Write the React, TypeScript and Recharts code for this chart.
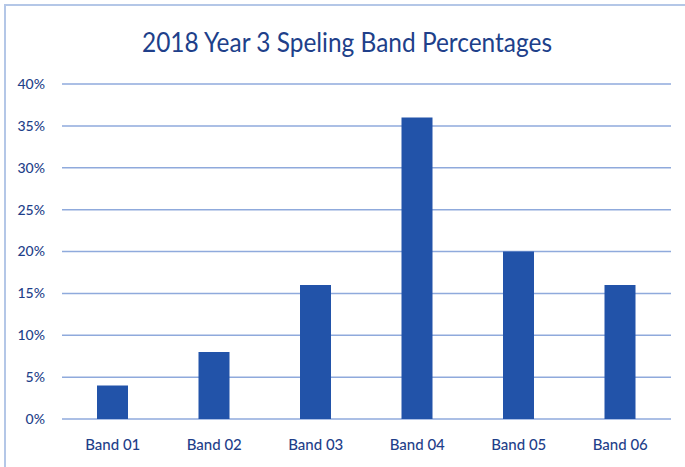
import { BarChart, Bar, XAxis, YAxis, CartesianGrid } from 'recharts';

const bands = ['Band 01', 'Band 02', 'Band 03', 'Band 04', 'Band 05', 'Band 06'];
const percentages = [4, 8, 16, 36, 20, 16];
const yTicks = [0, 5, 10, 15, 20, 25, 30, 35, 40];

const TEXT = '#1f3f8a';

export default function App() {
  const data = bands.map((name, i) => ({ name, value: percentages[i] }));

  return (
    <div style={{ position: 'absolute', left: 0, top: 0, width: 685, height: 467, overflow: 'hidden', background: '#fff' }}>
      {/* light chart-area border, runs off the right/bottom edge */}
      <div
        style={{
          position: 'absolute', left: 4, top: 4, width: 700, height: 500,
          border: '2px solid #b4c7e7', boxSizing: 'border-box',
        }}
      />
      <svg width={685} height={70} style={{ position: 'absolute', left: 0, top: 0 }}>
        <text
          x={142}
          y={52}
          textLength={410}
          lengthAdjust="spacingAndGlyphs"
          fill="#203f8a"
          style={{ fontFamily: 'Lato, sans-serif', fontSize: 27 }}
        >
          2018 Year 3 Speling Band Percentages
        </text>
      </svg>
      <div style={{ position: 'absolute', left: 0, top: 0 }}>
        <BarChart width={685} height={467} data={data} margin={{ top: 84, right: 14, bottom: 18, left: 0 }}>
          <CartesianGrid vertical={false} stroke="#8faadc" strokeWidth={1.5} />
          <XAxis
            dataKey="name"
            height={30}
            axisLine={false}
            tickLine={false}
            tickMargin={14}
            tick={{ fill: TEXT, fontSize: 15, fontFamily: 'Lato, sans-serif', fontWeight: 500 }}
          />
          <YAxis
            width={62}
            domain={[0, 40]}
            ticks={yTicks}
            interval={0}
            axisLine={false}
            tickLine={false}
            tickMargin={11}
            tickFormatter={(v) => `${v}%`}
            tick={{ fill: TEXT, fontSize: 14, fontFamily: 'Lato, sans-serif', fontWeight: 500 }}
          />
          <Bar dataKey="value" fill="#2253a9" barSize={31} isAnimationActive={false} />
        </BarChart>
      </div>
    </div>
  );
}
